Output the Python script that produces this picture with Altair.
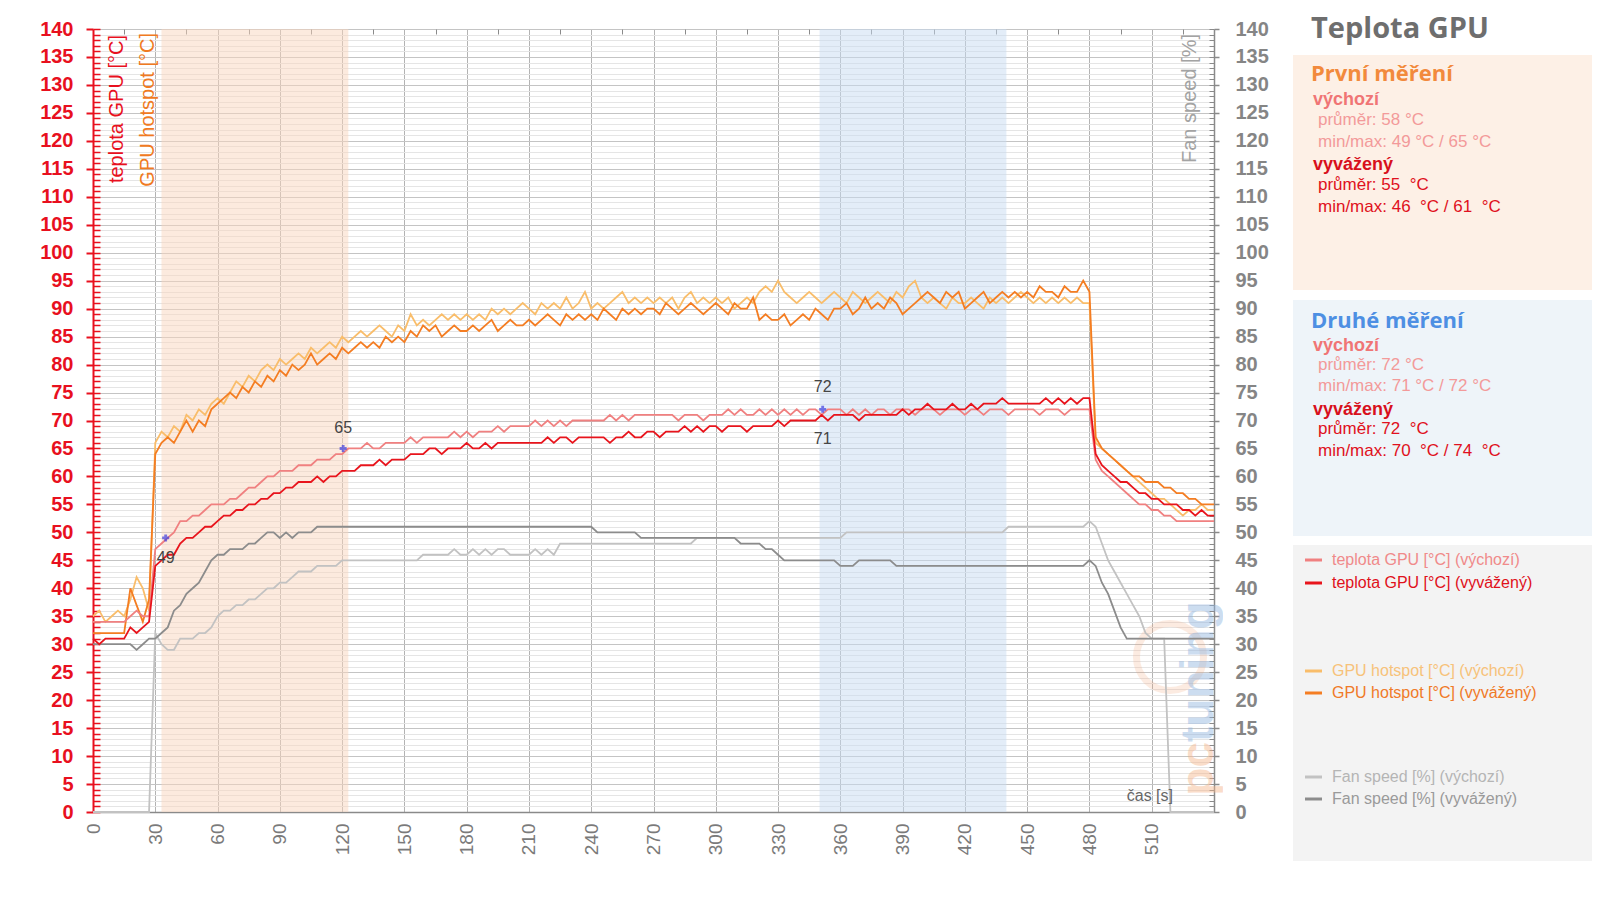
import altair as alt
import pandas as pd

# ---------------- data ----------------
TIME = list(range(0, 541, 3))

TEMP_DEF = [
    34, 34, 34, 34, 34, 34, 35, 36, 35, 35,
    47, 48, 49, 50, 52, 52, 53, 53, 54, 55,
    55, 55, 56, 56, 57, 58, 58, 59, 60, 60,
    61, 61, 61, 62, 62, 62, 63, 63, 63, 64,
    64, 65, 65, 65, 66, 65, 65, 66, 66, 66,
    66, 67, 66, 67, 67, 67, 67, 67, 68, 67,
    68, 67, 68, 68, 68, 69, 68, 69, 69, 69,
    69, 70, 69, 70, 69, 70, 69, 70, 70, 70,
    70, 70, 70, 71, 70, 71, 70, 71, 71, 71,
    71, 71, 71, 71, 70, 71, 71, 71, 70, 71,
    71, 71, 72, 71, 72, 71, 71, 72, 71, 72,
    71, 72, 71, 72, 71, 72, 72, 71, 72, 72,
    72, 71, 72, 71, 72, 71, 72, 72, 71, 72,
    72, 72, 71, 72, 72, 72, 71, 72, 72, 72,
    71, 72, 72, 71, 72, 72, 72, 71, 72, 72,
    72, 72, 71, 72, 72, 72, 71, 72, 72, 72,
    72, 63, 61, 60, 59, 58, 57, 56, 55, 55,
    54, 54, 53, 53, 52, 52, 52, 52, 52, 52,
    52,
]

TEMP_BAL = [
    31, 30, 31, 31, 31, 31, 33, 32, 33, 34,
    44, 45, 46, 46, 48, 49, 49, 50, 51, 51,
    52, 53, 53, 54, 54, 55, 55, 56, 56, 57,
    57, 58, 58, 59, 59, 59, 60, 59, 60, 60,
    61, 61, 61, 62, 62, 62, 63, 62, 63, 63,
    63, 64, 64, 64, 65, 65, 64, 65, 65, 65,
    66, 65, 65, 66, 65, 66, 66, 66, 66, 66,
    66, 66, 66, 67, 66, 67, 67, 66, 67, 67,
    67, 67, 67, 66, 67, 67, 68, 67, 67, 68,
    68, 67, 68, 68, 68, 69, 68, 69, 68, 69,
    69, 68, 69, 69, 69, 68, 69, 69, 69, 69,
    70, 69, 70, 70, 70, 70, 70, 71, 70, 71,
    71, 71, 71, 70, 71, 71, 71, 71, 71, 71,
    72, 71, 72, 72, 73, 72, 72, 72, 73, 72,
    72, 73, 72, 73, 73, 73, 74, 73, 73, 73,
    73, 73, 73, 74, 73, 74, 73, 74, 73, 74,
    74, 64, 62, 61, 60, 59, 59, 58, 57, 57,
    56, 56, 55, 55, 55, 54, 54, 53, 54, 53,
    53,
]

HOT_DEF = [
    35, 36, 34, 35, 36, 35, 38, 42, 40, 36,
    66, 68, 67, 69, 68, 71, 70, 72, 71, 73,
    74, 73, 75, 77, 76, 78, 77, 79, 80, 79,
    81, 80, 81, 82, 81, 83, 82, 83, 84, 83,
    85, 84, 85, 86, 85, 86, 87, 86, 85, 87,
    86, 89, 87, 88, 87, 88, 89, 88, 89, 88,
    89, 88, 89, 88, 90, 89, 90, 89, 90, 91,
    90, 89, 91, 90, 91, 90, 92, 90, 91, 93,
    90, 91, 90, 91, 92, 93, 91, 92, 91, 92,
    91, 92, 91, 92, 90, 92, 93, 91, 92, 91,
    92, 91, 92, 90, 91, 92, 91, 93, 94, 93,
    95, 93, 92, 91, 92, 93, 92, 91, 92, 93,
    92, 91, 93, 92, 91, 92, 93, 92, 91, 93,
    92, 94, 95, 92, 91, 92, 91, 90, 92, 91,
    91, 92, 91, 90, 92, 91, 92, 91, 92, 93,
    92, 91, 92, 91, 92, 91, 92, 91, 92, 91,
    91, 66, 65, 64, 63, 62, 61, 60, 59, 58,
    57, 56, 56, 55, 54, 53, 54, 54, 55, 54,
    54,
]

HOT_BAL = [
    32, 32, 32, 32, 32, 32, 40, 37, 34, 38,
    64, 66, 67, 66, 68, 70, 68, 70, 69, 72,
    73, 74, 75, 74, 76, 75, 77, 76, 78, 77,
    79, 78, 80, 79, 80, 82, 80, 81, 82, 81,
    83, 82, 83, 84, 83, 84, 83, 85, 84, 85,
    84, 86, 85, 87, 86, 87, 85, 86, 87, 86,
    86, 87, 86, 87, 88, 86, 87, 88, 87, 87,
    88, 87, 88, 89, 88, 87, 89, 88, 89, 88,
    89, 88, 90, 89, 88, 90, 89, 90, 89, 90,
    90, 89, 91, 90, 89, 90, 91, 90, 89, 90,
    91, 90, 89, 91, 90, 90, 92, 88, 89, 88,
    88, 89, 87, 88, 89, 88, 90, 89, 88, 90,
    90, 91, 89, 90, 92, 90, 91, 90, 92, 91,
    89, 90, 91, 92, 93, 92, 91, 93, 92, 93,
    90, 91, 92, 93, 91, 92, 93, 92, 93, 92,
    93, 92, 94, 93, 93, 92, 94, 93, 93, 95,
    93, 67, 65, 64, 63, 62, 61, 60, 60, 59,
    59, 59, 58, 58, 57, 57, 56, 56, 55, 55,
    55,
]

FAN_DEF = [
    0, 0, 0, 0, 0, 0, 0, 0, 0, 0,
    32, 30, 29, 29, 31, 31, 31, 32, 32, 33,
    35, 36, 36, 37, 37, 38, 38, 39, 40, 40,
    41, 41, 42, 43, 43, 43, 44, 44, 44, 44,
    45, 45, 45, 45, 45, 45, 45, 45, 45, 45,
    45, 45, 45, 46, 46, 46, 46, 46, 47, 46,
    46, 47, 46, 47, 46, 47, 47, 46, 46, 46,
    46, 47, 46, 47, 46, 48, 48, 48, 48, 48,
    48, 48, 48, 48, 48, 48, 48, 48, 48, 48,
    48, 48, 48, 48, 48, 48, 48, 49, 49, 49,
    49, 49, 49, 49, 49, 49, 49, 49, 49, 49,
    49, 49, 49, 49, 49, 49, 49, 49, 49, 49,
    49, 50, 50, 50, 50, 50, 50, 50, 50, 50,
    50, 50, 50, 50, 50, 50, 50, 50, 50, 50,
    50, 50, 50, 50, 50, 50, 50, 51, 51, 51,
    51, 51, 51, 51, 51, 51, 51, 51, 51, 51,
    52, 51, 48, 45, 43, 41, 39, 37, 35, 32,
    31, 31, 31, 0, 0, 0, 0, 0, 0, 0,
    0,
]

FAN_BAL = [
    30, 30, 30, 30, 30, 30, 30, 29, 30, 31,
    31, 32, 33, 36, 37, 39, 40, 41, 43, 45,
    46, 46, 47, 47, 47, 48, 48, 49, 50, 50,
    49, 50, 49, 50, 50, 50, 51, 51, 51, 51,
    51, 51, 51, 51, 51, 51, 51, 51, 51, 51,
    51, 51, 51, 51, 51, 51, 51, 51, 51, 51,
    51, 51, 51, 51, 51, 51, 51, 51, 51, 51,
    51, 51, 51, 51, 51, 51, 51, 51, 51, 51,
    51, 50, 50, 50, 50, 50, 50, 50, 49, 49,
    49, 49, 49, 49, 49, 49, 49, 49, 49, 49,
    49, 49, 49, 49, 48, 48, 48, 48, 47, 47,
    46, 45, 45, 45, 45, 45, 45, 45, 45, 45,
    44, 44, 44, 45, 45, 45, 45, 45, 45, 44,
    44, 44, 44, 44, 44, 44, 44, 44, 44, 44,
    44, 44, 44, 44, 44, 44, 44, 44, 44, 44,
    44, 44, 44, 44, 44, 44, 44, 44, 44, 44,
    45, 44, 41, 39, 36, 33, 31, 31, 31, 31,
    31, 31, 31, 31, 31, 31, 31, 31, 31, 31,
    31,
]

Y_TICKS = list(range(0, 141, 5))
Y_MINOR = list(range(0, 141, 1))
X_TICKS = list(range(0, 511, 30))
X_MINOR = list(range(15, 541, 30))

BAND_START = [33, 350]
BAND_END = [123, 440]

# min/max markers (t, value) and their value labels
MARK_T = [35, 120.5, 351.5]
MARK_V = [49, 65, 72]
LABEL_T = [35, 120.5, 351.5, 351.5]
LABEL_V = [49, 65, 72, 71]
LABEL_TEXT = ["49", "65", "72", "71"]

for arr in (TEMP_DEF, TEMP_BAL, HOT_DEF, HOT_BAL, FAN_DEF, FAN_BAL):
    assert len(arr) == len(TIME), len(arr)

# ---------------- styling ----------------
FONT = "Liberation Sans"
HFONT = "Open Sans"
RED = "#e8101e"
C_TEMP_DEF = "#f08080"
C_TEMP_BAL = "#e8141c"
C_HOT_DEF = "#f9bd6a"
C_HOT_BAL = "#f47d22"
C_FAN_DEF = "#c2c2c2"
C_FAN_BAL = "#8c8c8c"

W, H = 1121, 783
XS = alt.Scale(domain=[0, 540], nice=False, zero=False)
YS = alt.Scale(domain=[0, 140], nice=False, zero=False)


def sdf(vals):
    return pd.DataFrame({"t": TIME, "v": vals})


ONE = pd.DataFrame({"a": [0]})

# axes
ax_x_main = alt.Axis(values=X_TICKS, grid=True, gridColor="#b3b3b3", gridWidth=1,
                     ticks=False, domain=True, domainColor="#8a8a8a", domainWidth=1.5,
                     labelAngle=-90, labelFont=FONT, labelFontSize=19,
                     labelColor="#7a7a7a", labelPadding=11, title=None)
ax_x_minor = alt.Axis(values=X_MINOR, grid=False, ticks=True, tickSize=5,
                      tickColor="#8a8a8a", tickWidth=1, labels=False, domain=False,
                      offset=-5, title=None)
ax_y_minor_grid = alt.Axis(orient="left", values=[v for v in Y_MINOR if v % 5],
                           grid=True, gridColor="#e5e5e5", gridWidth=1, ticks=False,
                           labels=False, domain=False, title=None)
ax_y_left = alt.Axis(orient="left", values=Y_TICKS, grid=True, gridColor="#c4c4c4",
                     gridWidth=1, tickColor=RED, tickSize=7, tickWidth=2,
                     domainColor=RED, domainWidth=2, labelFont=FONT, labelFontSize=20,
                     labelFontWeight="bold", labelColor=RED, labelPadding=13, title=None)
ax_y_left_in = alt.Axis(orient="left", values=Y_MINOR, grid=False, ticks=True,
                        tickSize=7, tickColor=RED, tickWidth=1.5, labels=False,
                        domain=False, offset=-7, title=None)
ax_y_right = alt.Axis(orient="right", values=Y_TICKS, grid=False, tickColor="#8a8a8a",
                      tickSize=5, tickWidth=1.5, domainColor="#8a8a8a", domainWidth=1.5,
                      labelFont=FONT, labelFontSize=20, labelFontWeight="bold",
                      labelColor="#858585", labelPadding=16, title=None)
ax_y_right_in = alt.Axis(orient="right", values=Y_MINOR, grid=False, ticks=True,
                         tickSize=5, tickColor="#8a8a8a", tickWidth=1, labels=False,
                         domain=False, offset=-5, title=None)


def dummy(xaxis=None, yaxis=None):
    enc = {"x": alt.X("t:Q", scale=XS, axis=xaxis)}
    if yaxis is not None:
        enc["y"] = alt.Y("v:Q", scale=YS, axis=yaxis)
    return alt.Chart(sdf(TEMP_DEF)).mark_point(opacity=0, size=1).encode(**enc)


def line(vals, color, yaxis=None, width=1.8):
    return alt.Chart(sdf(vals)).mark_line(color=color, strokeWidth=width).encode(
        x=alt.X("t:Q", scale=XS, axis=None),
        y=alt.Y("v:Q", scale=YS, axis=yaxis),
    )


def txt(s, x, y, size, color, weight="normal", align="left", baseline="alphabetic",
        angle=0, font=FONT, opacity=1.0):
    kw = dict(text=s, align=align, baseline=baseline, fontSize=size, color=color,
              fontWeight=weight, font=font)
    if angle:
        kw["angle"] = angle
    if opacity != 1.0:
        kw["opacity"] = opacity
    return alt.Chart(ONE).mark_text(**kw).encode(x=alt.value(x), y=alt.value(y))


def box(x1, x2, y1, y2, color):
    return alt.Chart(ONE).mark_rect(color=color).encode(
        x=alt.value(x1), x2=alt.value(x2), y=alt.value(y1), y2=alt.value(y2))


def legline(x1, x2, y, color):
    return alt.Chart(ONE).mark_rule(color=color, strokeWidth=3).encode(
        x=alt.value(x1), x2=alt.value(x2), y=alt.value(y))


layers = []

# shaded bands
bands = pd.DataFrame({"start": BAND_START, "end": BAND_END,
                      "fill": ["#f9d6bd", "#c7dbf1"]})
layers.append(alt.Chart(bands).mark_rect(opacity=0.5).encode(
    x=alt.X("start:Q", scale=XS, axis=None), x2="end:Q",
    color=alt.Color("fill:N", scale=None)))

# axis carriers
layers.append(dummy(None, ax_y_minor_grid))
layers.append(dummy(ax_x_main, None))
layers.append(dummy(ax_x_minor, None))
layers.append(dummy(None, ax_y_left_in))
layers.append(dummy(None, ax_y_right_in))

# watermark
layers.append(alt.Chart(ONE).mark_point(shape="circle", filled=False, size=4500,
                                         strokeWidth=7, color="#f5a070", opacity=0.2)
              .encode(x=alt.value(1077), y=alt.value(628)))
layers.append(txt("tuning", 1106, 713, 46, "#8fb4e0", weight="bold", align="left",
                  baseline="middle", angle=270, opacity=0.45))
layers.append(txt("pc", 1106, 713, 46, "#f5b48a", weight="bold", align="right",
                  baseline="middle", angle=270, opacity=0.45))

# series
layers.append(line(FAN_DEF, C_FAN_DEF, ax_y_right))
layers.append(line(FAN_BAL, C_FAN_BAL))
layers.append(line(HOT_DEF, C_HOT_DEF, ax_y_left))
layers.append(line(HOT_BAL, C_HOT_BAL))
layers.append(line(TEMP_DEF, C_TEMP_DEF))
layers.append(line(TEMP_BAL, C_TEMP_BAL))

# annotations: markers
marks = pd.DataFrame({"t": MARK_T, "v": MARK_V})
layers.append(alt.Chart(marks).mark_point(shape="cross", size=50, filled=True,
                                          color="#4040e0", strokeWidth=0).encode(
    x=alt.X("t:Q", scale=XS, axis=None), y=alt.Y("v:Q", scale=YS, axis=None)))

# annotations: value labels
labels = pd.DataFrame({"t": LABEL_T, "v": LABEL_V, "label": LABEL_TEXT})
label_dy = [20, -20, -22, 24]
for i in range(len(LABEL_T)):
    row = labels.iloc[[i]]
    layers.append(alt.Chart(row).mark_text(fontSize=16, font=FONT, color="#444444",
                                           baseline="middle", align="center",
                                           dy=label_dy[i]).encode(
        x=alt.X("t:Q", scale=XS, axis=None), y=alt.Y("v:Q", scale=YS, axis=None),
        text="label:N"))

# in-plot axis titles
layers.append(txt("teplota GPU [°C]", 24, 6, 20, RED, align="right",
                  baseline="middle", angle=270))
layers.append(txt("GPU hotspot [°C]", 55, 4, 20, "#f07a22", align="right",
                  baseline="middle", angle=270))
layers.append(txt("Fan speed [%]", 1097, 5, 20, "#a3a3a3", align="right",
                  baseline="middle", angle=270))
layers.append(txt("čas [s]", 1080, 767, 16, "#666666", align="right",
                  baseline="middle"))

# ---------------- side panel ----------------
PX = 1200
layers.append(box(PX, PX + 299, 26, 261, "#fdf0e6"))
layers.append(box(PX, PX + 299, 271, 507, "#eef4f9"))
layers.append(box(PX, PX + 299, 516, 832, "#f3f3f3"))

layers.append(txt("Teplota GPU", 1218, 9, 29, "#6e6e6e", weight="bold", font=HFONT))

PINK_H = "#f07575"
PINK_T = "#f39a9a"
RED_H = "#d8101c"
RED_T = "#e01020"

# first measurement
layers.append(txt("První měření", 1218, 52, 22, "#f28a3c", weight="bold", font=HFONT))
layers.append(txt("výchozí", 1220, 76, 18, PINK_H, weight="bold"))
layers.append(txt("průměr: 58 °C", 1225, 96, 17, PINK_T))
layers.append(txt("min/max: 49 °C / 65 °C", 1225, 118, 17, PINK_T))
layers.append(txt("vyvážený", 1220, 141, 18, RED_H, weight="bold"))
layers.append(txt("průměr: 55 \u00a0°C", 1225, 161, 17, RED_T))
layers.append(txt("min/max: 46 \u00a0°C / 61 \u00a0°C", 1225, 183, 17, RED_T))

# second measurement
layers.append(txt("Druhé měření", 1218, 299, 22, "#4d8fe3", weight="bold", font=HFONT))
layers.append(txt("výchozí", 1220, 322, 18, PINK_H, weight="bold"))
layers.append(txt("průměr: 72 °C", 1225, 341, 17, PINK_T))
layers.append(txt("min/max: 71 °C / 72 °C", 1225, 362, 17, PINK_T))
layers.append(txt("vyvážený", 1220, 386, 18, RED_H, weight="bold"))
layers.append(txt("průměr: 72 \u00a0°C", 1225, 405, 17, RED_T))
layers.append(txt("min/max: 70 \u00a0°C / 74 \u00a0°C", 1225, 427, 17, RED_T))

# legend
LEG = [
    ("teplota GPU [°C] (výchozí)", C_TEMP_DEF, "#f08a8a", 531),
    ("teplota GPU [°C] (vyvážený)", C_TEMP_BAL, "#e0101a", 554),
    ("GPU hotspot [°C] (výchozí)", C_HOT_DEF, "#f7c27a", 642),
    ("GPU hotspot [°C] (vyvážený)", C_HOT_BAL, "#f07a28", 664),
    ("Fan speed [%] (výchozí)", C_FAN_DEF, "#b5b5b5", 748),
    ("Fan speed [%] (vyvážený)", C_FAN_BAL, "#9a9a9a", 770),
]
for label, lc, tc, yy in LEG:
    layers.append(legline(1212, 1229, yy, lc))
    layers.append(txt(label, 1239, yy, 16, tc, baseline="middle"))

chart = (
    alt.layer(*layers)
    .resolve_scale(x="shared", y="shared")
    .resolve_axis(x="independent", y="independent")
    .properties(
        width=W,
        height=H,
        autosize=alt.AutoSizeParams(type="none"),
        padding={"left": 85, "top": 21, "right": 378, "bottom": 78},
        background="white",
    )
    .configure_view(stroke=None)
)

chart.save("out.html", embed_options={"renderer": "svg", "actions": False})
